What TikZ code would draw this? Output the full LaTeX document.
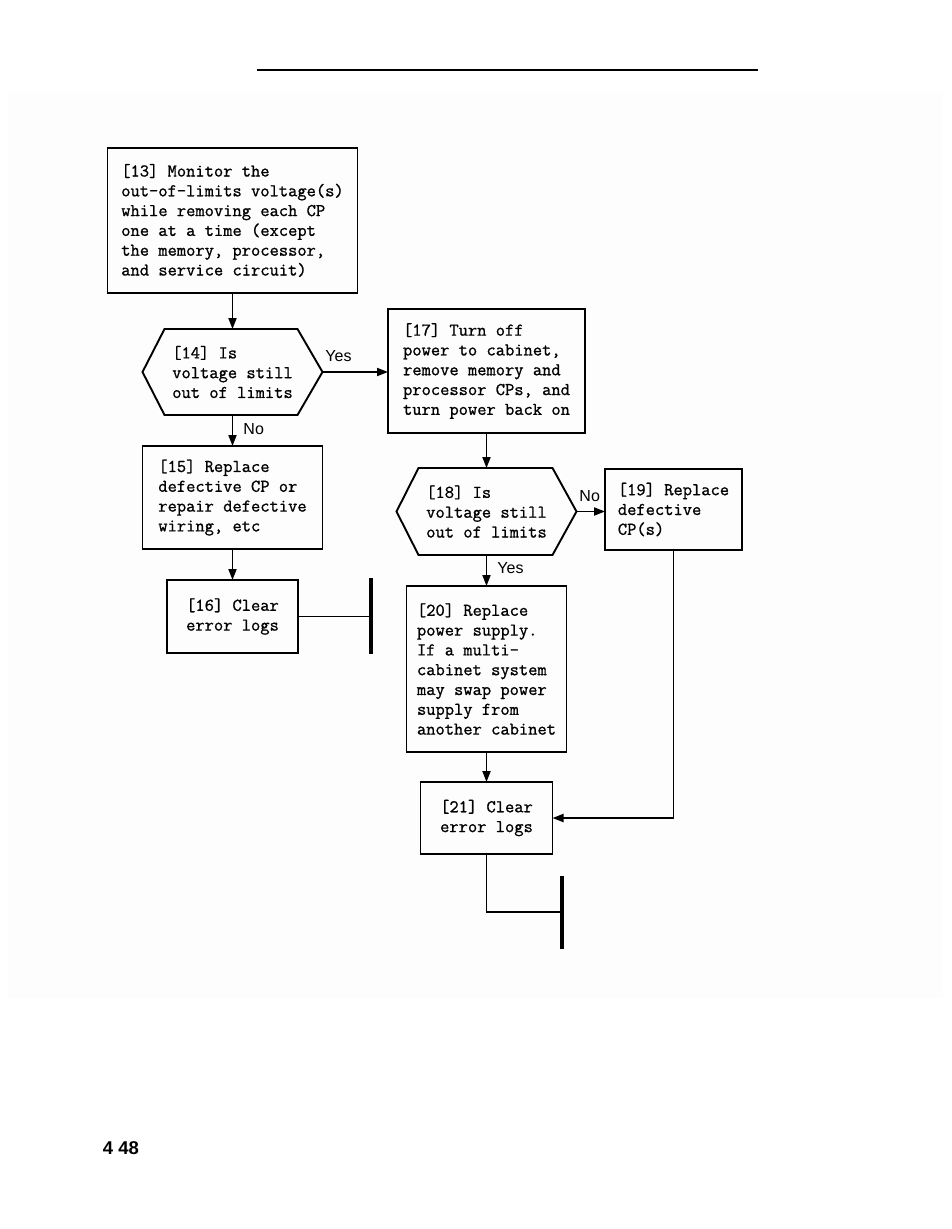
\documentclass[tikz,border=0pt]{standalone}
\usepackage{fontspec}
\newfontfamily\labelfont{Liberation Sans}
\newfontfamily\boxfont[FakeBold=1]{Latin Modern Mono}
\usepackage{tikz}
\usetikzlibrary{positioning, arrows.meta, calc}

\begin{document}
\begin{tikzpicture}[x=1pt, y=-1pt, >={Triangle[length=11pt, width=8pt]}, font=\boxfont\fontsize{18}{19.8}\selectfont]
    \tikzset{
        proc/.style={draw, line width=1.9pt, align=left, inner sep=0pt, outer sep=0pt},
        dec/.style={align=left, inner sep=0pt, outer sep=0pt, minimum width=180pt},
        hexline/.style={line width=1.9pt, line join=miter},
        arr/.style={->, line width=1.9pt},
        wire/.style={line width=1.9pt},
        bar/.style={line width=4pt},
        yn/.style={font=\labelfont\fontsize{16}{18}\selectfont, inner sep=2pt}
    }
    \useasboundingbox (0,0) rectangle (951,1229);
    \fill[black!0.6] (8,93) rectangle (943,998);
    \draw[line width=2.5pt] (257,70) -- (758,70);

    % left column
    \node[proc, minimum width=250pt, minimum height=145pt] (m13) at (232.5,220.5) {[13] Monitor the\\out-of-limits voltage(s)\\while removing each CP\\one at a time (except\\the memory, processor,\\and service circuit)};
    \node[dec, minimum height=86pt] (q14) at (232.5,372) {[14] Is\\voltage still\\out of limits};
    \draw[hexline] (q14.west) -- ([xshift=22pt]q14.north west) -- ([xshift=-25pt]q14.north east) -- (q14.east) -- ([xshift=-25pt]q14.south east) -- ([xshift=22pt]q14.south west) -- cycle;
    \node[proc, minimum width=180pt, minimum height=103pt] (r15) at (232.5,497.5) {[15] Replace\\defective CP or\\repair defective\\wiring, etc};
    \node[proc, align=center, minimum width=131pt, minimum height=73pt] (c16) at (232.5,616.5) {[16] Clear\\error logs};
    \coordinate (e16) at (371,616.5);

    % right column
    \node[proc, minimum width=197pt, minimum height=124pt] (t17) at (486.5,371) {[17] Turn off\\power to cabinet,\\remove memory and\\processor CPs, and\\turn power back on};
    \node[dec, minimum height=87pt] (q18) at (486.5,511.5) {[18] Is\\voltage still\\out of limits};
    \draw[hexline] (q18.west) -- ([xshift=22pt]q18.north west) -- ([xshift=-24pt]q18.north east) -- (q18.east) -- ([xshift=-24pt]q18.south east) -- ([xshift=22pt]q18.south west) -- cycle;
    \node[proc, minimum width=137pt, minimum height=81pt] (r19) at (673.5,509.5) {[19] Replace\\defective\\CP(s)};
    \node[proc, minimum width=160pt, minimum height=166pt] (p20) at (486.5,669) {[20] Replace\\power supply.\\If a multi-\\cabinet system\\may swap power\\supply from\\another cabinet};
    \node[proc, align=center, minimum width=132pt, minimum height=72pt] (c21) at (486.5,818) {[21] Clear\\error logs};
    \coordinate (e21) at (562,912);

    \node[font=\labelfont\bfseries\fontsize{18.5}{20}\selectfont] (pg) at (121,1148) {4 48};

    % connectors
    \draw[arr] (m13.south) -- (q14.north);
    \draw[arr] (q14.east) -- (q14.east -| t17.west) node[yn, pos=0, anchor=south west, yshift=7pt] {Yes};
    \draw[arr] (q14.south) -- (r15.north) node[yn, pos=0.45, right=8pt] {No};
    \draw[arr] (r15.south) -- (c16.north);
    \draw[wire] (c16.east) -- (e16);
    \draw[bar] ([yshift=38.5pt]e16) -- ([yshift=-37.5pt]e16);

    \draw[arr] (t17.south) -- (q18.north);
    \draw[arr] (q18.east) -- (q18.east -| r19.west) node[yn, pos=0, anchor=south west, yshift=7pt] {No};
    \draw[arr] (q18.south) -- (p20.north) node[yn, pos=0.42, right=8pt] {Yes};
    \draw[arr] (p20.south) -- (c21.north);
    \draw[arr] (r19.south) |- (c21.east);
    \draw[wire] (c21.south) |- (e21);
    \draw[bar] ([yshift=36pt]e21) -- ([yshift=-37pt]e21);
\end{tikzpicture}
\end{document}
